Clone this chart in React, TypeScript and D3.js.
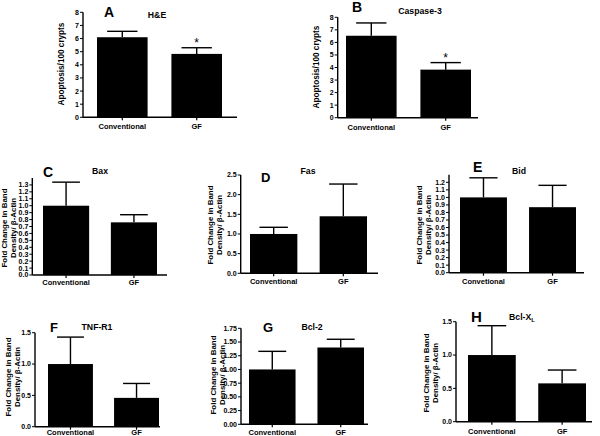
import React from "react";
import * as d3 from "d3";

// ---------- data ----------
const panelLetters = ["A", "B", "C", "D", "E", "F", "G", "H"];
const panelTitles = ["H&E", "Caspase-3", "Bax", "Fas", "Bid", "TNF-R1", "Bcl-2", "Bcl-X"];
const titleSubscripts = ["", "", "", "", "", "", "", "L"];
const categories = ["Conventional", "GF"];
const categoriesBid = ["Convetional", "GF"];
const conventionalMean = [6.1, 6.53, 1.0, 1.0, 1.0, 1.0, 1.0, 1.0];
const conventionalErr = [0.45, 1.02, 0.34, 0.17, 0.26, 0.43, 0.33, 0.44];
const gfMean = [4.83, 3.83, 0.76, 1.45, 0.87, 0.46, 1.4, 0.575];
const gfErr = [0.47, 0.56, 0.11, 0.82, 0.29, 0.23, 0.15, 0.2];
const significantGF = [true, true, false, false, false, false, false, false];
const yAxisMax = [8, 8, 1.4, 2.5, 1.3, 1.5, 1.75, 1.5];
const yLabelMax = [8, 8, 1.3, 2.5, 1.2, 1.5, 1.75, 1.5];
const yTickStep = [1, 1, 0.1, 0.5, 0.1, 0.5, 0.25, 0.5];
const yTickDigits = [0, 0, 1, 1, 1, 1, 2, 1];
const yTitleApoptosis = ["Apoptosis/100 crypts"];
const yTitleFold = ["Fold Change in Band", "Density/ β-Actin"];

// ---------- layout (pixels) ----------
type Layout = {
  ax: number; y0: number; yTop: number; axEnd: number; b0: number; b1: number;
  lx: number; ly: number; tx: number; ty: number; ytx: number; yty: number; xly: number; lsize: number;
};
const layouts: Layout[] = [
  { ax: 83, y0: 117.3, yTop: 12.3, axEnd: 237, b0: 97, b1: 222, lx: 104, ly: 17, tx: 157, ty: 18, ytx: 61, yty: 64, xly: 129, lsize: 14 },
  { ax: 337.7, y0: 117.7, yTop: 17.3, axEnd: 478, b0: 346, b1: 471, lx: 352, ly: 12, tx: 420, ty: 14, ytx: 316, yty: 67, xly: 130, lsize: 14 },
  { ax: 32.3, y0: 275, yTop: 178, axEnd: 167, b0: 43, b1: 157, lx: 43, ly: 177, tx: 100, ty: 174, ytx: 9, yty: 228, xly: 285, lsize: 14 },
  { ax: 240.7, y0: 273.3, yTop: 175, axEnd: 378, b0: 250, b1: 367, lx: 261, ly: 182, tx: 308, ty: 174, ytx: 215, yty: 225, xly: 284, lsize: 13 },
  { ax: 449, y0: 272.7, yTop: 174.8, axEnd: 584, b0: 460, b1: 576, lx: 473, ly: 172, tx: 519, ty: 174, ytx: 424, yty: 225, xly: 284, lsize: 14 },
  { ax: 35, y0: 426.7, yTop: 332.7, axEnd: 160, b0: 48, b1: 159, lx: 50, ly: 332, tx: 97, ty: 330, ytx: 13, yty: 377, xly: 435, lsize: 13 },
  { ax: 241, y0: 424.3, yTop: 328.3, axEnd: 368, b0: 249, b1: 364, lx: 263, ly: 332, tx: 312, ty: 330, ytx: 218, yty: 375, xly: 435, lsize: 13 },
  { ax: 456, y0: 421.7, yTop: 321.7, axEnd: 592, b0: 468, b1: 586, lx: 471, ly: 322, tx: 522, ty: 320, ytx: 431, yty: 373, xly: 434, lsize: 15 },
];

const FONT = "'Liberation Sans', Arial, sans-serif";

function Panel({ i }: { i: number }) {
  const L = layouts[i];
  const cats = i === 4 ? categoriesBid : categories;
  const y = d3.scaleLinear().domain([0, yAxisMax[i]]).range([L.y0, L.yTop]);
  const x = d3.scaleBand<string>().domain(cats).range([L.b0, L.b1]).paddingInner(0.32).paddingOuter(0);
  const means = [conventionalMean[i], gfMean[i]];
  const errs = [conventionalErr[i], gfErr[i]];
  const nTicks = Math.round(yLabelMax[i] / yTickStep[i]);
  const ticks = d3.range(nTicks + 1).map((k) => k * yTickStep[i]);
  const fmt = d3.format(`.${yTickDigits[i]}f`);
  const titleLines = i < 2 ? yTitleApoptosis : yTitleFold;
  const titleSize = i < 2 ? 8.2 : 7.9;
  const bw = x.bandwidth();
  const capW = bw * 0.6;
  return (
    <g>
      {cats.map((c, k) => {
        const bx = x(c)!;
        const cx = bx + bw / 2;
        const top = y(means[k]);
        const et = y(means[k] + errs[k]);
        return (
          <g key={c}>
            <rect x={bx} y={top} width={bw} height={L.y0 - top} fill="#000" />
            <line x1={cx} x2={cx} y1={top} y2={et} stroke="#000" strokeWidth={1.4} />
            <line x1={cx - capW / 2} x2={cx + capW / 2} y1={et} y2={et} stroke="#000" strokeWidth={1.4} />
            <line x1={cx} x2={cx} y1={L.y0} y2={L.y0 + 3} stroke="#000" strokeWidth={1.2} />
            <text x={cx} y={L.xly} textAnchor="middle" fontSize={7.5} fontWeight="bold" fontFamily={FONT}>{c}</text>
            {k === 1 && significantGF[i] && (
              <text x={cx} y={et - 1} textAnchor="middle" fontSize={12} fontFamily={FONT}>*</text>
            )}
          </g>
        );
      })}
      <line x1={L.ax} x2={L.ax} y1={L.y0} y2={L.yTop} stroke="#000" strokeWidth={1.4} />
      <line x1={L.ax} x2={L.axEnd} y1={L.y0} y2={L.y0} stroke="#000" strokeWidth={1.4} />
      {ticks.map((t) => (
        <g key={t}>
          <line x1={L.ax - 3} x2={L.ax} y1={y(t)} y2={y(t)} stroke="#000" strokeWidth={1} />
          <text x={L.ax - 4} y={y(t)} dy="0.35em" textAnchor="end" fontSize={7} fontWeight="bold" fontFamily={FONT}>{fmt(t)}</text>
        </g>
      ))}
      <text x={L.lx} y={L.ly} fontSize={L.lsize} fontWeight="bold" fontFamily={FONT}>{panelLetters[i]}</text>
      <text x={L.tx} y={L.ty} textAnchor="middle" fontSize={8.7} fontWeight="bold" fontFamily={FONT}>
        {panelTitles[i]}
        {titleSubscripts[i] && <tspan fontSize={6} dy={2}>{titleSubscripts[i]}</tspan>}
      </text>
      <g transform={`translate(${L.ytx},${L.yty}) rotate(-90)`}>
        {titleLines.map((s, k) => (
          <text key={s} x={0} y={(k - (titleLines.length - 1) / 2) * 9} dy="0.35em" textAnchor="middle" fontSize={titleSize} fontWeight="bold" fontFamily={FONT}>{s}</text>
        ))}
      </g>
    </g>
  );
}

export default function App() {
  return (
    <svg width={600} height={436} style={{ position: "absolute", left: 0, top: 0, background: "#fff" }}>
      <rect width={600} height={436} fill="#fff" />
      {panelLetters.map((_, i) => (
        <Panel key={i} i={i} />
      ))}
    </svg>
  );
}
